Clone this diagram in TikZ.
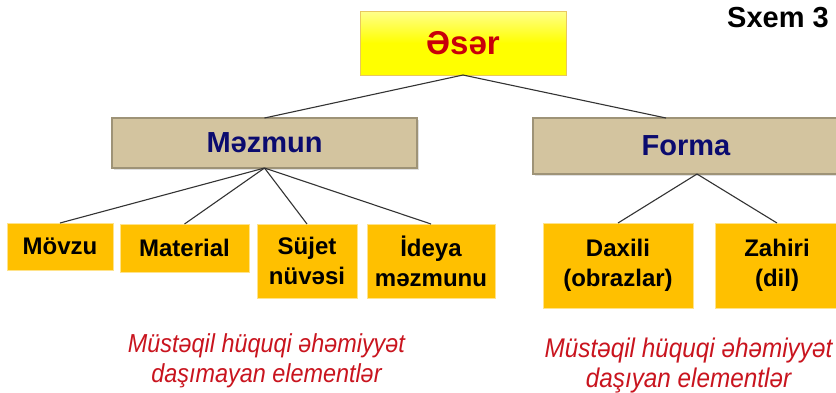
\documentclass[tikz,border=0pt]{standalone}
\usepackage{fontspec}
\setmainfont{Liberation Sans}
\newfontfamily\noteFont[FakeStretch=0.9]{Liberation Sans}
\usetikzlibrary{shadows}
\definecolor{leafc}{HTML}{FFC000}
\definecolor{leafb}{HTML}{FFE38A}
\definecolor{tanfill}{HTML}{D3C49F}
\definecolor{tanb}{HTML}{9E9377}
\definecolor{navyt}{HTML}{0B0B6F}
\definecolor{redt}{HTML}{C8000A}
\definecolor{italred}{HTML}{C9141E}
\definecolor{linec}{HTML}{333333}
\definecolor{topb}{HTML}{E8C860}
\tikzset{
  boxbase/.style={rectangle, inner sep=0pt, outer sep=0pt, align=center},
  topbox/.style={boxbase, top color=yellow!45!white, bottom color=yellow, middle color=yellow, draw=topb, line width=0.8pt, text=redt, font=\fontsize{33}{38}\selectfont\bfseries},
  midbox/.style={boxbase, fill=tanfill, draw=tanb, line width=1.2pt, text=navyt, font=\fontsize{29}{34}\selectfont\bfseries, drop shadow={opacity=0.25, shadow xshift=1.5pt, shadow yshift=-1.5pt}},
  leafbox/.style={boxbase, fill=leafc, draw=leafb, line width=0.8pt, text=black, font=\fontsize{24}{30}\selectfont\bfseries},
  conn/.style={draw=linec, line width=1.1pt},
  note/.style={inner sep=0pt, outer sep=0pt, text=italred, anchor=base},
  titletext/.style={inner sep=0pt, text=black, font=\fontsize{29}{34}\selectfont\bfseries}
}
\begin{document}
\begin{tikzpicture}[x=1pt, y=-1pt]
\useasboundingbox (0,0) rectangle (836,392);
\fill[white] (0,0) rectangle (836,392);
\clip (0,0) rectangle (836,392);

% top
\node[topbox, minimum width=206pt, minimum height=64pt] (eser) at (463,43) {Əsər};
\node[titletext] (sxem) at (778,18) {Sxem 3};

% middle
\node[midbox, minimum width=305pt, minimum height=50pt] (mez) at (264.5,143) {Məzmun};
\node[midbox, minimum width=306pt, minimum height=56pt] (forma) at (686,146) {Forma};

% leaves
\node[leafbox, minimum width=106pt, minimum height=47pt] (movzu) at (60,246.5) {Mövzu};
\node[leafbox, minimum width=129pt, minimum height=48pt] (mat) at (184.5,248) {Material};
\node[leafbox, minimum width=100pt, minimum height=74pt] (sujet) at (307,261) {Süjet\\nüvəsi};
\node[leafbox, minimum width=128pt, minimum height=74pt] (ideya) at (431,261) {İdeya\\məzmunu};
\node[leafbox, minimum width=150pt, minimum height=85pt] (daxili) at (618,265.5) {Daxili\\(obrazlar)};
\node[leafbox, minimum width=124pt, minimum height=85pt] (zahiri) at (777,265.5) {Zahiri\\(dil)};

% connectors
\draw[conn] (eser.south) -- (mez.north);
\draw[conn] (eser.south) -- ([xshift=-20pt]forma.north);
\draw[conn] (mez.south) -- (movzu.north);
\draw[conn] (mez.south) -- (mat.north);
\draw[conn] (mez.south) -- (sujet.north);
\draw[conn] (mez.south) -- (ideya.north);
\draw[conn] ([xshift=11pt]forma.south) -- (daxili.north);
\draw[conn] ([xshift=11pt]forma.south) -- (zahiri.north);

% notes
\node[note, font=\noteFont\itshape\fontsize{26}{30}\selectfont] (nl1) at (266.5,352) {Müstəqil hüquqi əhəmiyyət};
\node[note, font=\noteFont\itshape\fontsize{26}{30}\selectfont] (nl2) at (266.5,382) {daşımayan elementlər};
\node[note, font=\noteFont\itshape\fontsize{27}{30}\selectfont] (nr1) at (688.5,357) {Müstəqil hüquqi əhəmiyyət};
\node[note, font=\noteFont\itshape\fontsize{27}{30}\selectfont] (nr2) at (688.5,387) {daşıyan elementlər};
\end{tikzpicture}
\end{document}
